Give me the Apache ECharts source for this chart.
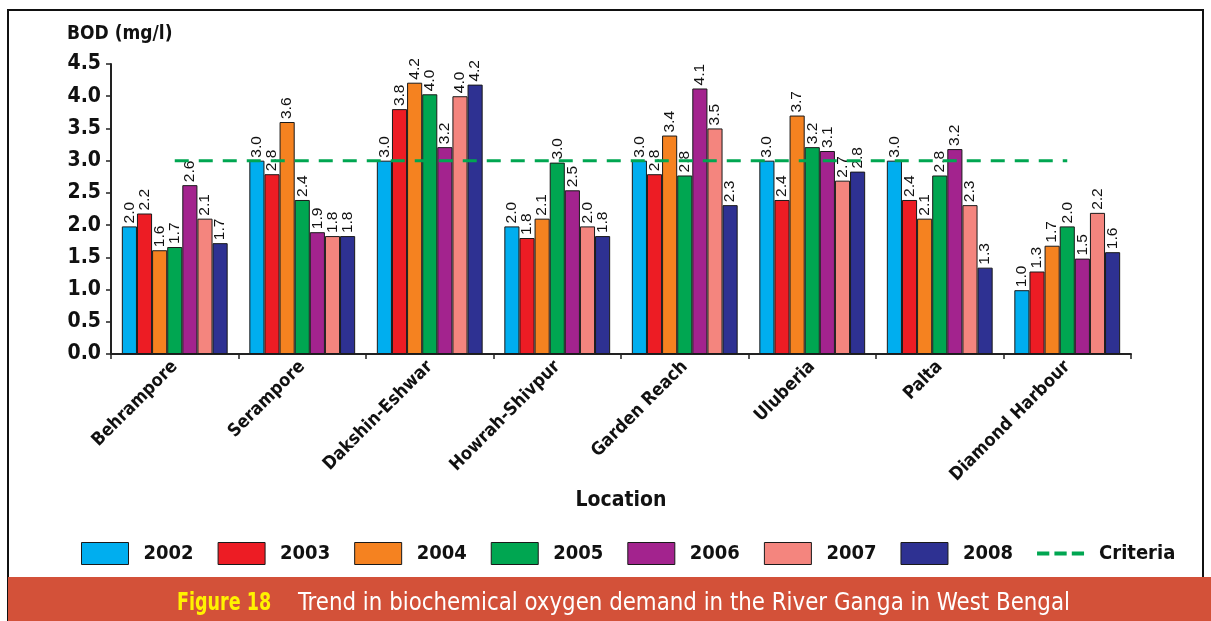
<!DOCTYPE html>
<html><head><meta charset="utf-8">
<script src="https://cdn.jsdelivr.net/npm/echarts@6/dist/echarts.min.js"></script>
<style>html,body{margin:0;padding:0;background:#fff}#c{width:1211px;height:621px}</style>
</head><body><div id="c"></div>
<script>
const categories = ['Behrampore','Serampore','Dakshin-Eshwar','Howrah-Shivpur','Garden Reach','Uluberia','Palta','Diamond Harbour'];
const years = ['2002','2003','2004','2005','2006','2007','2008'];
const v2002 = [1.98, 3.0, 3.0, 1.98, 3.0, 3.0, 3.0, 0.99];
const v2003 = [2.18, 2.79, 3.80, 1.80, 2.79, 2.39, 2.39, 1.28];
const v2004 = [1.61, 3.60, 4.21, 2.10, 3.39, 3.70, 2.10, 1.68];
const v2005 = [1.66, 2.39, 4.03, 2.97, 2.77, 3.21, 2.77, 1.98];
const v2006 = [2.62, 1.89, 3.21, 2.54, 4.12, 3.15, 3.18, 1.48];
const v2007 = [2.10, 1.83, 4.00, 1.98, 3.50, 2.69, 2.31, 2.19];
const v2008 = [1.72, 1.83, 4.18, 1.83, 2.31, 2.83, 1.34, 1.58];
const criteria = [3, 3, 3, 3, 3, 3, 3, 3];
const yTicks = [0, 0.5, 1, 1.5, 2, 2.5, 3, 3.5, 4, 4.5];

const values = [v2002, v2003, v2004, v2005, v2006, v2007, v2008];
const colors = ['#00aeef','#ed1c24','#f58220','#00a651','#a3238e','#f4857e','#2e3192'];
const narrow = "'DejaVu Sans Condensed',sans-serif";

const chart = echarts.init(document.getElementById('c'), null, {renderer:'canvas'});
const series = years.map((y,i)=>({
  name: y, type: 'bar', data: values[i], barGap: '0%', barCategoryGap: '17%',
  itemStyle: {color: colors[i], borderColor: '#1a1a1a', borderWidth: 1},
  label: {show: true, position: 'top', rotate: 90, align: 'left', verticalAlign: 'middle',
    distance: 3, color: '#111', fontSize: 15.5, fontFamily: "'Liberation Sans',Arial,sans-serif",
    formatter: p => p.value.toFixed(1)},
  emphasis: {disabled: true}, z: 2
}));
series.push({
  name: 'Criteria', type: 'line', data: criteria, symbol: 'none', z: 5,
  lineStyle: {color: '#00a651', width: 3, type: [14, 10]},
  itemStyle: {color: '#00a651'}
});

chart.setOption({
  animation: false,
  grid: {left: 111, right: 80, top: 64, bottom: 267},
  xAxis: {
    type: 'category', data: categories,
    name: 'Location', nameLocation: 'middle', nameGap: 136,
    nameTextStyle: {fontSize: 21, color: '#111', fontFamily: narrow, fontWeight: 'bold'},
    axisLine: {lineStyle: {color: '#222', width: 2}},
    axisTick: {show: true, alignWithLabel: false, length: 5, lineStyle: {color: '#222', width: 1.5}},
    axisLabel: {rotate: 45, fontSize: 18, color: '#111', fontFamily: narrow, fontWeight: 'bold', margin: 10, interval: 0}
  },
  yAxis: {
    type: 'value', min: 0, max: 4.5, interval: 0.5,
    name: 'BOD (mg/l)', nameLocation: 'end', nameGap: 20,
    nameTextStyle: {fontSize: 19, color: '#111', fontFamily: narrow, fontWeight: 'bold', align: 'left', padding: [0,0,0,-44]},
    axisLine: {show: true, lineStyle: {color: '#222', width: 2}},
    axisTick: {show: true, length: 5, lineStyle: {color: '#222', width: 1.5}},
    splitLine: {show: false},
    axisLabel: {fontSize: 21, color: '#111', fontFamily: narrow, fontWeight: 'bold', margin: 10,
      formatter: v => yTicks.includes(v) ? v.toFixed(1) : ''}
  },
  legend: {
    top: 537, left: 76, itemWidth: 47, itemHeight: 22, itemGap: 24,
    textStyle: {fontSize: 20, color: '#111', fontFamily: narrow, fontWeight: 'bold', padding: [0,0,0,10]},
    data: years.map(y=>({name: y, icon: 'rect', itemStyle: {borderColor: '#1a1a1a', borderWidth: 1}})).concat([{
      name: 'Criteria',
      icon: 'path://M0,0h12v4h-12z M17,0h12v4h-12z M34,0h12v4h-12z',
      itemWidth: 46, itemHeight: 4,
      itemStyle: {color: '#00a651', borderWidth: 0}
    }])
  },
  graphic: [
    {type: 'rect', shape: {x: 8, y: 10, width: 1195, height: 611}, style: {fill: 'none', stroke: '#111', lineWidth: 2}, z: -1},
    {type: 'rect', shape: {x: 8, y: 577, width: 1203, height: 44}, style: {fill: '#d35139'}},
    {type: 'text', x: 177, y: 603, scaleX: 0.78, style: {
      text: 'Figure 18', align: 'left', verticalAlign: 'middle',
      fill: '#fff200', fontSize: 25, fontWeight: 'bold', fontFamily: narrow}},
    {type: 'text', x: 298, y: 603, scaleX: 0.95, style: {
      text: 'Trend in biochemical oxygen demand in the River Ganga in West Bengal', align: 'left', verticalAlign: 'middle',
      fill: '#ffffff', fontSize: 25, fontFamily: narrow}}
  ],
  series: series
});
</script></body></html>
